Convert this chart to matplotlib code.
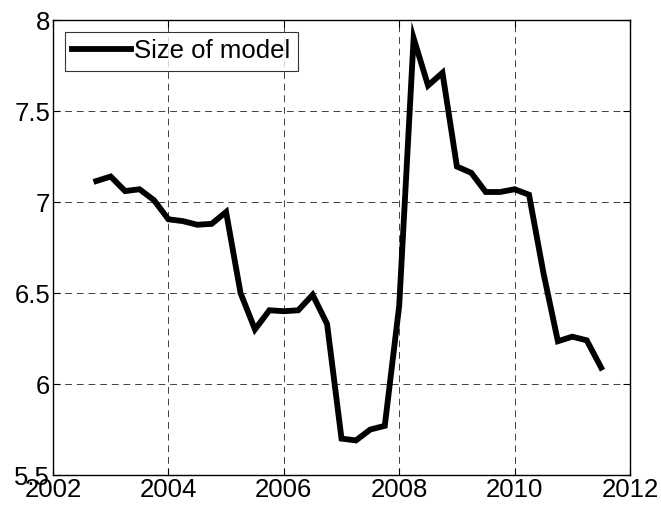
import numpy as np
import matplotlib
matplotlib.use("Agg")
import matplotlib.pyplot as plt

plt.rcParams['font.family'] = ['Liberation Sans', 'DejaVu Sans']

# quarterly observations, 2002Q4 .. 2011Q3
t = 2002.75 + 0.25 * np.arange(36)
size_of_model = [7.115, 7.14, 7.06, 7.07, 7.01, 6.905, 6.895, 6.875, 6.88, 6.945,
                 6.50, 6.30, 6.405, 6.40, 6.405, 6.49, 6.33,
                 5.70, 5.69, 5.75, 5.77, 6.43,
                 7.90, 7.64, 7.71, 7.195, 7.16, 7.055, 7.055, 7.07, 7.04,
                 6.61, 6.235, 6.26, 6.24, 6.09]
xticks = [2002, 2004, 2006, 2008, 2010, 2012]
yticks = [5.5, 6, 6.5, 7, 7.5, 8]

fig = plt.figure(figsize=(6.61, 5.05), dpi=100)
ax = fig.add_axes([53/661, 1 - 475/505, (630-53)/661, (475-20)/505])
ax.plot(t, size_of_model, color='black', lw=4.2, solid_joinstyle='miter', label='Size of model')
ax.set_xlim(2002, 2012); ax.set_ylim(5.5, 8)
ax.set_xticks(xticks); ax.set_yticks(yticks)
ax.set_yticklabels(['5.5', '6', '6.5', '7', '7.5', '8'])
ax.grid(True, color='#404040', ls=(0, (7, 5)), lw=0.7)
ax.tick_params(direction='in', top=True, right=True, labelsize=18.5, length=5, pad=2)
for s in ax.spines.values(): s.set_linewidth(1.0)
leg = ax.legend(loc='upper left', fontsize=18.5, frameon=True, fancybox=False,
                edgecolor='black', handlelength=2.3, handletextpad=0.1,
                borderpad=0.3, borderaxespad=0.45)
leg.get_frame().set_linewidth(0.8)
fig.savefig('out.png', dpi=100)
